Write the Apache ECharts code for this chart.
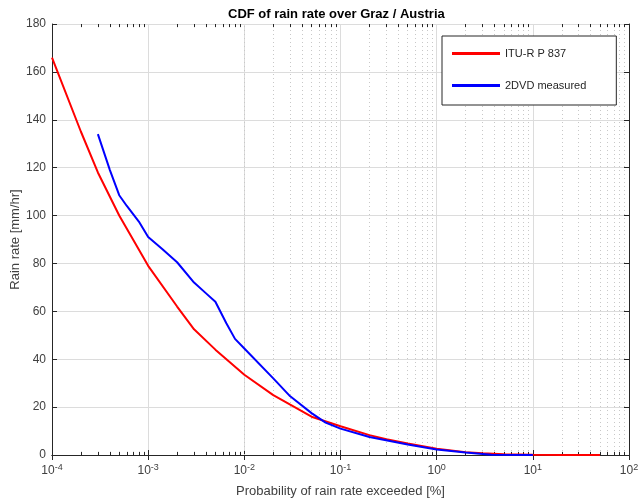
<!DOCTYPE html>
<html>
<head>
<meta charset="utf-8">
<script src="https://cdn.jsdelivr.net/npm/echarts@6/dist/echarts.min.js"></script>
<style>
  html, body { margin: 0; padding: 0; background: #fff; }
  #main { width: 639px; height: 501px; }
</style>
</head>
<body>
<div id="main"></div>
<script>
// ITU-R P.837 model curve (probability %, rain rate mm/hr)
const ituX = [1e-4, 2e-4, 3e-4, 5e-4, 1e-3, 2e-3, 3e-3, 5e-3, 1e-2, 2e-2, 3e-2, 5e-2,
  0.1, 0.2, 0.3, 0.5, 1, 2, 3, 5, 10, 20, 50];
const ituY = [166, 135, 118, 100, 79, 62, 52.5, 44, 33.5, 25, 21, 16,
  12, 8.3, 6.6, 4.8, 2.6, 1.2, 0.7, 0.35, 0.1, 0.02, 0];

// 2DVD measured curve
const dvdX = [3e-4, 4e-4, 5e-4, 6e-4, 8e-4, 1e-3, 1.4e-3, 2e-3, 3e-3, 4e-3, 5e-3, 6.5e-3,
  8e-3, 1e-2, 2e-2, 3e-2, 5e-2, 7e-2, 0.1, 0.2, 0.5, 1, 2, 3.7, 10];
const dvdY = [134, 119, 108.5, 104, 97.5, 91, 86, 80.5, 72, 67.5, 64, 55,
  48.5, 44.5, 32, 24.5, 17.5, 13.5, 11, 7.5, 4.4, 2.3, 1, 0.15, 0];

// minor log ticks (2..9 in every decade)
const minorTicks = [];
for (let d = -4; d < 2; d++) {
  for (let m = 2; m <= 9; m++) minorTicks.push(m * Math.pow(10, d));
}

const axisColor = '#262626';
const textColor = '#404040';
const fontFamily = '"Liberation Sans", Arial, sans-serif';

const zip = (xs, ys) => xs.map((x, i) => [x, ys[i]]);

const expLabel = (v) => {
  const e = Math.round(Math.log10(v));
  return '{b|10}{s|' + e + '}';
};

const gridLines = minorTicks.map(v => ({ xAxis: v }));
const minorTickMarks = [];
minorTicks.forEach(v => {
  minorTickMarks.push([{ coord: [v, 0] }, { coord: [v, 1.3] }]);
  minorTickMarks.push([{ coord: [v, 180] }, { coord: [v, 178.7] }]);
});

const chart = echarts.init(document.getElementById('main'), null, { renderer: 'canvas' });

chart.setOption({
  animation: false,
  textStyle: { fontFamily: fontFamily },
  title: {
    text: 'CDF of rain rate over Graz / Austria',
    left: 223,
    top: 3,
    textStyle: { fontSize: 13, fontWeight: 'bold', color: '#000', fontFamily: fontFamily }
  },
  legend: {
    data: ['ITU-R P 837', '2DVD measured'],
    orient: 'vertical',
    left: 442,
    top: 36,
    z: 10,
    icon: 'rect',
    itemWidth: 48,
    itemHeight: 3,
    itemGap: 21,
    padding: [12, 30, 14, 10],
    borderColor: axisColor,
    borderWidth: 1,
    backgroundColor: '#fff',
    textStyle: { fontSize: 11, color: axisColor, fontFamily: fontFamily }
  },
  grid: { left: 52, right: 10, top: 24, bottom: 46, containLabel: false, outerBoundsMode: 'none' },
  xAxis: [
    {
      type: 'log',
      logBase: 10,
      min: 1e-4,
      max: 100,
      name: 'Probability of rain rate exceeded [%]',
      nameLocation: 'middle',
      nameGap: 30,
      nameMoveOverlap: false,
      nameTextStyle: { fontSize: 13, color: textColor },
      axisLine: { lineStyle: { color: axisColor, width: 1 } },
      axisTick: { inside: true, length: 5, lineStyle: { color: axisColor } },
      axisLabel: {
        margin: 8,
        color: textColor,
        formatter: expLabel,
        rich: {
          b: { fontSize: 12, color: textColor },
          s: { fontSize: 9, color: textColor, padding: [0, 0, 7, 0] }
        }
      },
      splitLine: { show: true, lineStyle: { color: '#dcdcdc', width: 1 } }
    },
    {
      type: 'log',
      logBase: 10,
      min: 1e-4,
      max: 100,
      position: 'top',
      axisLine: { lineStyle: { color: axisColor, width: 1 } },
      axisTick: { inside: true, length: 5, lineStyle: { color: axisColor } },
      axisLabel: { show: false },
      splitLine: { show: false }
    }
  ],
  yAxis: [
    {
      type: 'value',
      min: 0,
      max: 180,
      interval: 20,
      name: 'Rain rate [mm/hr]',
      nameLocation: 'middle',
      nameGap: 30,
      nameMoveOverlap: false,
      nameTextStyle: { fontSize: 13, color: textColor },
      axisLine: { show: true, lineStyle: { color: axisColor, width: 1 } },
      axisTick: { show: true, inside: true, length: 5, lineStyle: { color: axisColor } },
      axisLabel: { margin: 6, fontSize: 12, color: textColor },
      splitLine: { show: true, lineStyle: { color: '#dcdcdc', width: 1 } }
    },
    {
      type: 'value',
      min: 0,
      max: 180,
      interval: 20,
      position: 'right',
      axisLine: { show: true, lineStyle: { color: axisColor, width: 1 } },
      axisTick: { show: true, inside: true, length: 5, lineStyle: { color: axisColor } },
      axisLabel: { show: false },
      splitLine: { show: false }
    }
  ],
  series: [
    {
      name: 'minor',
      type: 'line',
      data: [],
      silent: true,
      z: 1,
      markLine: {
        silent: true,
        z: 1,
        symbol: 'none',
        label: { show: false },
        animation: false,
        data: gridLines,
        lineStyle: { color: '#c8c8c8', type: [1, 3], width: 1 }
      }
    },
    {
      name: 'ticks',
      type: 'line',
      data: [],
      silent: true,
      z: 3,
      markLine: {
        silent: true,
        z: 3,
        symbol: 'none',
        label: { show: false },
        animation: false,
        data: minorTickMarks,
        lineStyle: { color: axisColor, type: 'solid', width: 1 }
      }
    },
    {
      name: 'ITU-R P 837',
      type: 'line',
      data: zip(ituX, ituY),
      symbol: 'none',
      z: 5,
      lineStyle: { color: '#ff0000', width: 2 },
      itemStyle: { color: '#ff0000' }
    },
    {
      name: '2DVD measured',
      type: 'line',
      data: zip(dvdX, dvdY),
      symbol: 'none',
      z: 6,
      lineStyle: { color: '#0000ff', width: 2 },
      itemStyle: { color: '#0000ff' }
    }
  ]
});
</script>
</body>
</html>
